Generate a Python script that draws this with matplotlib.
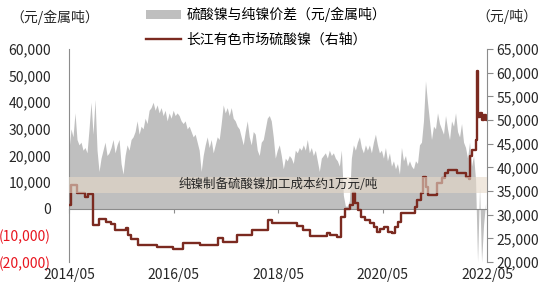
import pandas as pd
import matplotlib
matplotlib.use("Agg")
import matplotlib.pyplot as plt
import matplotlib.dates as mdates
from matplotlib.patches import Patch, Rectangle
from matplotlib.lines import Line2D
from matplotlib.transforms import blended_transform_factory

plt.rcParams["font.family"] = ["Noto Sans CJK SC", "DejaVu Sans"]

# spread between nickel sulphate and pure nickel (thousand yuan / metal tonne), every 14 days
spread_k = [
    22, 30, 27, 36, 26, 24, 25, 22, 23, 21, 30, 40, 28, 41, 22, 14, 19, 22, 25, 20,
    21, 23, 26, 21, 24, 26, 17, 13, 20, 24, 22, 26, 27, 29, 33, 28, 31, 30, 34, 32,
    37, 38, 40, 37, 39, 36, 38, 35, 37, 33, 36, 34, 37, 35,
    36, 35, 33, 32, 33, 30, 31, 29, 27, 28, 25, 22, 14, 20, 24, 27, 23, 26, 21, 24,
    27, 26, 32, 39, 36, 38, 35, 38, 34, 33, 31, 30, 27, 24, 29, 33, 27, 24, 29, 28,
    22, 20, 25, 26, 30, 34, 35, 33, 27, 19, 22, 24,
    20, 15, 19, 18, 20, 19, 17, 22, 21, 23, 22, 24, 22, 26, 21, 23, 20, 22, 18, 14,
    19, 20, 21, 19, 22, 20, 21, 19, 18, 16, 22, 5, 1, 1, 3, 19, 24, 22, 25, 27,
    23, 21, 24, 22, 24, 21, 25, 28, 24, 21,
    22, 19, 23, 18, 21, 16, 18, 15, 17, 13, 23, 18, 20, 16, 18, 16, 15, 18, 17, 24,
    25, 33, 48, 40, 33, 26, 31, 30, 36, 32, 30, 28, 35, 30, 26, 33, 31, 36, 29, 27,
    32, 25, 23, 19, 25, 16, 20, 11, -20, 8, -20, -6, 2,
]
spread_dates = pd.date_range("2014-05-01", periods=len(spread_k), freq="14D")

# Changjiang nickel sulphate price (thousand yuan / tonne), change points
price_dates = [
    "2014-05-01", "2014-05-15", "2014-06-26", "2014-08-21", "2014-09-11", "2014-10-16", "2014-11-27",
    "2015-01-15", "2015-02-19", "2015-03-19", "2015-06-03", "2015-06-17", "2015-07-08", "2015-08-26",
    "2016-01-06", "2016-04-27", "2016-06-01", "2016-07-06", "2016-11-02",
    "2017-03-08", "2017-04-11", "2017-07-18", "2017-10-31",
    "2018-02-20", "2018-03-20", "2018-09-11", "2018-10-23", "2018-12-11",
    "2019-04-08", "2019-04-29", "2019-06-17", "2019-07-15", "2019-08-12", "2019-09-16", "2019-10-07",
    "2019-10-21", "2019-11-11", "2019-12-02", "2019-12-30",
    "2020-02-03", "2020-03-02", "2020-03-23", "2020-04-13", "2020-05-11", "2020-06-08", "2020-07-06",
    "2020-07-27", "2020-08-17", "2020-09-07", "2020-12-14", "2020-12-28",
    "2021-01-25", "2021-02-08", "2021-02-28", "2021-03-14", "2021-05-16", "2021-06-20", "2021-07-11",
    "2021-08-01", "2021-10-03", "2021-12-05", "2021-12-26",
    "2022-01-02", "2022-01-16", "2022-02-13", "2022-02-20", "2022-02-27", "2022-03-13", "2022-03-27",
    "2022-04-10", "2022-04-24", "2022-05-01",
]
price_k = [
    32.0, 36.2, 34.6, 33.8, 34.3, 27.8, 29.0,
    28.5, 28.0, 26.8, 27.2, 25.7, 24.8, 23.6,
    23.1, 22.8, 22.7, 24.1, 23.6,
    25.1, 24.3, 25.8, 26.8,
    28.9, 28.3, 27.6, 26.8, 25.4,
    26.2, 25.6, 25.2, 29.6, 31.3, 32.0, 34.5, 32.4, 31.0, 29.6, 28.9,
    28.2, 27.5, 26.4, 26.9, 27.3, 26.4, 26.2, 27.5, 28.5, 30.3, 31.7, 33.1,
    34.5, 38.0, 35.9, 34.2, 36.6, 37.7, 38.7, 39.4, 38.7, 38.0, 37.5,
    42.3, 43.7, 45.8, 60.4, 50.7, 51.5, 49.9, 51.0, 50.1, 50.5,
]

left_ticks = [-20000, -10000, 0, 10000, 20000, 30000, 40000, 50000, 60000]
right_ticks = [20000, 25000, 30000, 35000, 40000, 45000, 50000, 55000, 60000, 65000]
x_ticks = ["2014-05-01", "2016-05-01", "2018-05-01", "2020-05-01", "2022-05-01"]

band_low, band_high = 6000, 12000
band_text = "纯镍制备硫酸镍加工成本约1万元/吨"
spread_label = "硫酸镍与纯镍价差（元/金属吨）"
price_label = "长江有色市场硫酸镍（右轴）"

GRAY = "#bfbfbf"
RED = "#7b2a20"
AXIS = "#8c8c8c"


def fmt(v):
    if v < 0:
        return "({:,})".format(-v)
    return "{:,}".format(v)


fig = plt.figure(figsize=(5.5, 2.92), dpi=100)
ax = fig.add_axes([69 / 550, 1 - 262 / 292, 418 / 550, 213 / 292])
ax2 = ax.twinx()

ax.fill_between(spread_dates, [v * 1000 for v in spread_k], 0, color=GRAY, linewidth=0)
ax2.plot(pd.to_datetime(price_dates), [v * 1000 for v in price_k],
         drawstyle="steps-post", color=RED, lw=1.7)

ax.set_ylim(-20000, 60000)
ax2.set_ylim(20000, 65000)
ax.set_xlim(pd.Timestamp("2014-05-01"), pd.Timestamp("2022-05-01"))

# cost band drawn on top of both series
tr = blended_transform_factory(ax2.transAxes, ax.transData)
ax2.add_patch(Rectangle((0, band_low), 1, band_high - band_low, transform=tr,
                        facecolor="#e6d9c9", alpha=0.6, lw=0, zorder=5))
ax2.text(0.5, (band_low + band_high) / 2, band_text, transform=tr,
         ha="center", va="center", fontsize=9, color="#262626", zorder=6)

# left axis
ax.set_yticks(left_ticks)
ax.set_yticklabels([fmt(v) for v in left_ticks])
ax.tick_params(axis="y", length=0, pad=13, labelsize=10, labelcolor="#262626")
for lbl, v in zip(ax.get_yticklabels(), left_ticks):
    if v < 0:
        lbl.set_color("#e8141e")

# x axis: line at zero with small ticks, labels at the bottom via ax2
ax.set_xticks(pd.to_datetime(x_ticks))
ax.xaxis.set_major_formatter(mdates.DateFormatter("%Y/%m"))
ax.spines["bottom"].set_position(("data", 0))
ax.spines["bottom"].set_color(AXIS)
ax.tick_params(axis="x", length=3, color=AXIS, labelbottom=False)
ax2.xaxis.set_visible(True)
ax2.tick_params(axis="x", length=0, labelbottom=True, labelsize=10, pad=4, labelcolor="#262626")

ax.spines["left"].set_color(AXIS)
for s in ["top", "right"]:
    ax.spines[s].set_visible(False)

# right axis
ax2.set_yticks(right_ticks)
ax2.set_yticklabels([fmt(v) for v in right_ticks])
ax2.tick_params(axis="y", length=4, color=AXIS, pad=3, labelsize=10, labelcolor="#262626")
ax2.spines["right"].set_color(AXIS)
for s in ["top", "left", "bottom"]:
    ax2.spines[s].set_visible(False)

fig.text(10 / 550, 1 - 17 / 292, "（元/金属吨）", va="center", fontsize=10, color="#262626")
fig.text(476 / 550, 1 - 17 / 292, "（元/吨）", va="center", fontsize=10, color="#262626")

handles = [Patch(facecolor=GRAY, edgecolor="none"), Line2D([], [], color=RED, lw=1.7)]
fig.legend(handles, [spread_label, price_label], loc="upper left",
           bbox_to_anchor=(146 / 550, 1 - 7 / 292), frameon=False, fontsize=10,
           handlelength=2.5, handleheight=0.6, handletextpad=0.4, labelspacing=0.75,
           borderpad=0, borderaxespad=0)

fig.savefig("out.png", dpi=100)
